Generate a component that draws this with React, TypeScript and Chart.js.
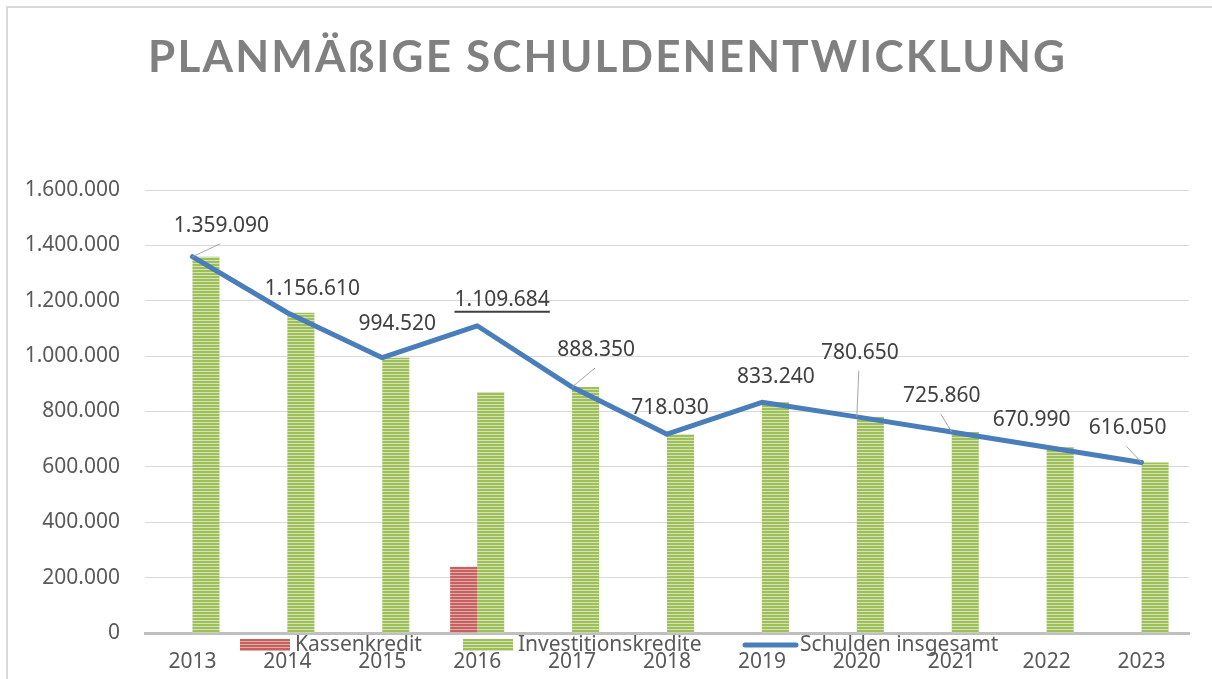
import React, { useEffect, useRef } from 'react';
import { Chart, registerables } from 'chart.js';

Chart.register(...registerables);

const title = 'PLANMÄßIGE SCHULDENENTWICKLUNG';
const years = ['2013', '2014', '2015', '2016', '2017', '2018', '2019', '2020', '2021', '2022', '2023'];
const kassenkredit = [null, null, null, 239684, null, null, null, null, null, null, null];
const investitionskredite = [1359090, 1156610, 994520, 870000, 888350, 718030, 833240, 780650, 725860, 670990, 616050];
const schuldenInsgesamt = [1359090, 1156610, 994520, 1109684, 888350, 718030, 833240, 780650, 725860, 670990, 616050];
const seriesNames = ['Kassenkredit', 'Investitionskredite', 'Schulden insgesamt'];
const yMin = 0;
const yMax = 1600000;
const yStep = 200000;

// label placement (style only)
const labelOffsets = [[29, -31], [25, -24], [15, -34], [25, -26], [24, -37], [3, -26], [14, -25], [3, -64], [-10, -36], [-15, -27], [-14, -34]];
const leaderLines = [true, false, false, false, true, false, false, true, true, false, true];
const underlined = [false, false, false, true, false, false, false, false, false, false, false];

const FONT = '"Noto Sans", "Open Sans", sans-serif';

const fmt = (v: number) => String(Math.round(v)).replace(/\B(?=(\d{3})+(?!\d))/g, '.');

function stripe(main: string, light: string): CanvasPattern | string {
  const c = document.createElement('canvas');
  c.width = 4;
  c.height = 3;
  const x = c.getContext('2d');
  if (!x) return main;
  x.fillStyle = main;
  x.fillRect(0, 0, 4, 3);
  x.fillStyle = light;
  x.fillRect(0, 2, 4, 1);
  return x.createPattern(c, 'repeat') || main;
}

export default function App() {
  const ref = useRef<HTMLCanvasElement | null>(null);

  useEffect(() => {
    if (!ref.current) return;
    const red = stripe('#c4625f', '#e3a9a7');
    const green = stripe('#9fbf5c', '#d3e4b2');
    const blue = '#4a7ebb';

    const framePlugin = {
      id: 'frame',
      beforeDraw(chart: any) {
        const ctx = chart.ctx;
        ctx.save();
        ctx.fillStyle = '#ffffff';
        ctx.fillRect(0, 0, chart.width, chart.height);
        ctx.strokeStyle = '#d9d9d9';
        ctx.lineWidth = 2;
        ctx.beginPath();
        ctx.moveTo(7, chart.height + 5);
        ctx.lineTo(7, 7);
        ctx.lineTo(chart.width + 5, 7);
        ctx.stroke();
        // title
        ctx.fillStyle = '#808080';
        ctx.font = 'bold 44px Lato, "Noto Sans", sans-serif';
        ctx.textBaseline = 'alphabetic';
        ctx.textAlign = 'left';
        (ctx as any).letterSpacing = '0px';
        const w0 = ctx.measureText(title).width;
        const n = Array.from(title).length;
        const sp = (917 - w0) / (n - 1);
        (ctx as any).letterSpacing = sp + 'px';
        ctx.fillText(title, 148, 72);
        (ctx as any).letterSpacing = '0px';
        ctx.restore();
      },
    };

    const labelPlugin = {
      id: 'lineLabels',
      afterDatasetsDraw(chart: any) {
        const ctx = chart.ctx;
        const meta = chart.getDatasetMeta(2);
        ctx.save();
        ctx.font = '21px ' + FONT;
        ctx.textAlign = 'center';
        ctx.textBaseline = 'middle';
        meta.data.forEach((pt: any, i: number) => {
          const [dx, dy] = labelOffsets[i];
          const lx = pt.x + dx;
          const ly = pt.y + dy;
          if (leaderLines[i]) {
            ctx.strokeStyle = '#a6a6a6';
            ctx.lineWidth = 1;
            ctx.beginPath();
            ctx.moveTo(pt.x, pt.y);
            ctx.lineTo(lx - 1, ly + 18);
            ctx.stroke();
          }
          const txt = fmt(schuldenInsgesamt[i]);
          ctx.fillStyle = '#404040';
          ctx.fillText(txt, lx, ly);
          if (underlined[i]) {
            const w = ctx.measureText(txt).width;
            ctx.fillRect(lx - w / 2, ly + 11, w, 2);
          }
        });
        ctx.restore();
      },
      afterDraw(chart: any) {
        const ctx = chart.ctx;
        ctx.save();
        ctx.font = '21px ' + FONT;
        ctx.textAlign = 'left';
        ctx.textBaseline = 'middle';
        ctx.fillStyle = red as any;
        ctx.fillRect(240, 639, 50, 12);
        ctx.fillStyle = green as any;
        ctx.fillRect(463, 639, 50, 12);
        ctx.strokeStyle = blue;
        ctx.lineWidth = 5;
        ctx.lineCap = 'round';
        ctx.beginPath();
        ctx.moveTo(745, 645);
        ctx.lineTo(796, 645);
        ctx.stroke();
        ctx.fillStyle = '#595959';
        ctx.fillText(seriesNames[0], 295, 645);
        ctx.fillText(seriesNames[1], 518, 645);
        ctx.fillText(seriesNames[2], 800, 645);
        ctx.restore();
      },
    };

    const chart = new Chart(ref.current, {
      type: 'bar',
      data: {
        labels: years,
        datasets: [
          {
            type: 'bar',
            label: seriesNames[0],
            data: kassenkredit as any,
            backgroundColor: red as any,
            order: 1,
            categoryPercentage: 0.57,
            barPercentage: 1,
          },
          {
            type: 'bar',
            label: seriesNames[1],
            data: investitionskredite,
            backgroundColor: green as any,
            order: 1,
            categoryPercentage: 0.57,
            barPercentage: 1,
          },
          {
            type: 'line',
            label: seriesNames[2],
            data: schuldenInsgesamt,
            borderColor: blue,
            borderWidth: 5,
            pointRadius: 0,
            tension: 0,
            borderJoinStyle: 'round',
            borderCapStyle: 'round',
            order: 0,
          } as any,
        ],
      },
      options: {
        animation: false,
        responsive: false,
        maintainAspectRatio: false,
        layout: { padding: { top: 190, right: 23, bottom: 0, left: 0 } },
        plugins: {
          legend: { display: false },
          tooltip: { enabled: false },
          title: { display: false },
        },
        scales: {
          x: {
            grid: { display: false, drawTicks: false },
            border: { display: true, color: '#bfbfbf', width: 3 },
            ticks: { color: '#595959', font: { family: FONT, size: 21 }, padding: 16, maxRotation: 0, autoSkip: false },
            afterFit: (s: any) => { s.height = 46; },
          },
          y: {
            min: yMin,
            max: yMax,
            grid: { color: '#d9d9d9', lineWidth: 1, drawTicks: false },
            border: { display: false },
            ticks: {
              stepSize: yStep,
              color: '#595959',
              font: { family: FONT, size: 21 },
              padding: 25,
              callback: (v: any) => fmt(Number(v)),
            },
            afterFit: (s: any) => { s.width = 145; },
          },
        },
      } as any,
      plugins: [framePlugin, labelPlugin],
    });
    return () => chart.destroy();
  }, []);

  return (
    <div style={{ position: 'fixed', left: 0, top: 0, width: 1212, height: 679, background: '#fff' }}>
      <canvas ref={ref} width={1212} height={679} style={{ display: 'block', width: 1212, height: 679 }} />
    </div>
  );
}
